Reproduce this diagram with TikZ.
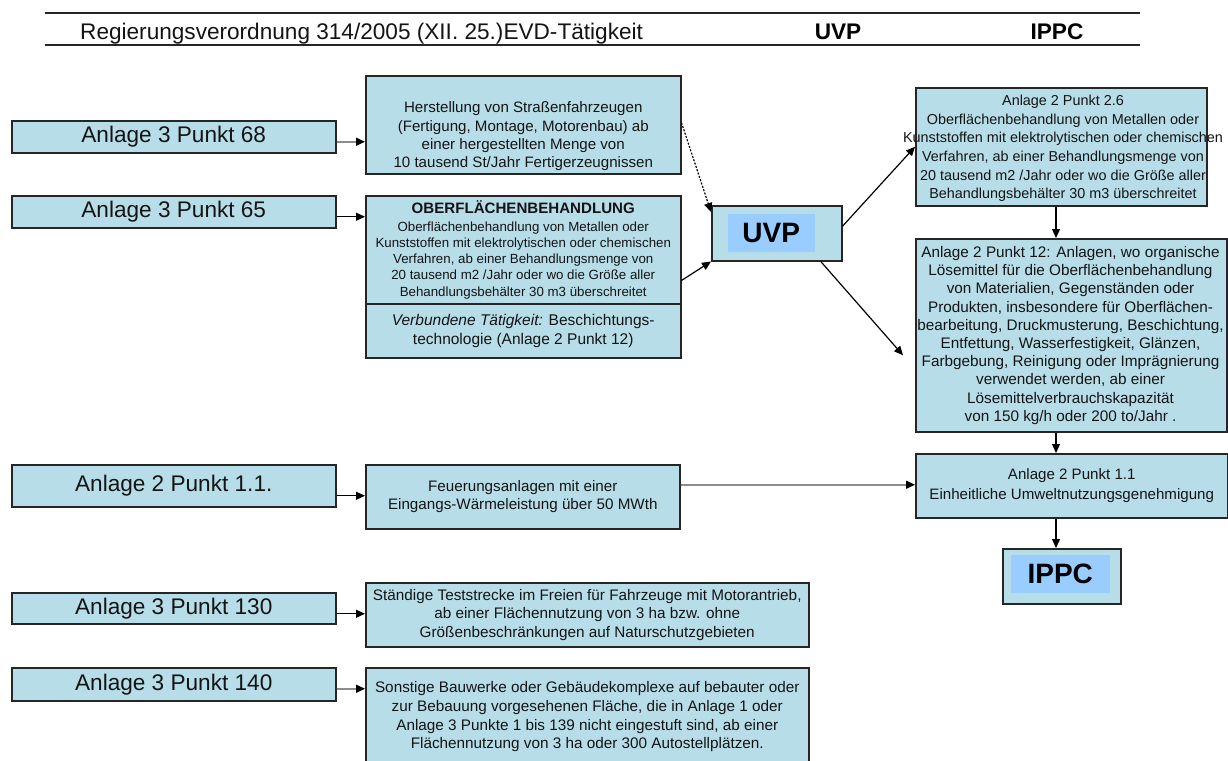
\documentclass[tikz,border=0pt]{standalone}
\usepackage{fontspec}
\setmainfont{Liberation Sans}
\usetikzlibrary{arrows.meta,calc}

\definecolor{boxfill}{HTML}{B7DEE8}
\definecolor{tagfill}{HTML}{99CCFF}
\definecolor{boxline}{HTML}{262626}
\definecolor{inkcol}{HTML}{141414}
\definecolor{shaftgray}{HTML}{8C8C8C}

\newcommand{\fsz}[2]{\fontsize{#1}{#2}\selectfont}

\begin{document}
\begin{tikzpicture}[x=1pt,y=-1pt,
  box/.style={draw=boxline, fill=boxfill, line width=1.5pt, inner sep=0pt,
              anchor=north west, align=center, text=inkcol},
  txt/.style={inner sep=0pt, align=center, text=inkcol},
  tag/.style={fill=tagfill, inner sep=0pt, text=black, font=\bfseries\fsz{28}{32}},
  lbl/.style={font=\fsz{22.6}{27}},
  conn/.style={line width=1.2pt, draw=black, -{Triangle[length=9pt,width=8pt,color=black]}},
  grayconn/.style={conn, draw=shaftgray, line width=1.5pt}
]
\useasboundingbox (0,0) rectangle (1228,760);
\clip (0,0) rectangle (1228,760);

% ---- header row ----
\draw[line width=2pt, boxline] (45,13) -- (1140,13);
\draw[line width=2pt, boxline] (45,45) -- (1140,45);
\node[anchor=base west, lbl, text=inkcol, inner sep=0pt] (hdr) at (80,40)
  {Regierungsverordnung 314/2005 (XII. 25.)EVD-Tätigkeit};
\node[anchor=base, font=\bfseries\fsz{22.6}{27}, inner sep=0pt] (hdruvp) at (838,40) {UVP};
\node[anchor=base, font=\bfseries\fsz{22.6}{27}, inner sep=0pt] (hdrippc) at (1057,40) {IPPC};

% ---- left column: annex references ----
\node[box, lbl, minimum width=324pt, minimum height=32pt] (l68)  at (11,120) {Anlage 3 Punkt 68};
\node[box, lbl, minimum width=324pt, minimum height=32pt] (l65)  at (11,195) {Anlage 3 Punkt 65};
\node[box, lbl, minimum width=324pt, minimum height=42pt] (l11)  at (11,464) {Anlage 2 Punkt 1.1.};
\node[box, lbl, minimum width=324pt, minimum height=31pt] (l130) at (11,592) {Anlage 3 Punkt 130};
\node[box, lbl, minimum width=324pt, minimum height=33pt] (l140) at (11,667) {Anlage 3 Punkt 140};

% ---- middle column: activities ----
\node[box, minimum width=315pt, minimum height=98pt] (herst) at (365,75) {};
\node[txt, font=\fsz{15.1}{18.3}] (herstt) at ([yshift=-11.5pt]herst.center)
  {Herstellung von Straßenfahrzeugen\\(Fertigung, Montage, Motorenbau) ab\\einer hergestellten Menge von\\10 tausend St/Jahr Fertigerzeugnissen};

\node[box, minimum width=315pt, minimum height=108pt, font=\fsz{13.3}{16.2}] (ober) at (365,195)
  {{\bfseries\fsz{15.1}{17}OBERFLÄCHENBEHANDLUNG}\\[1.5pt]
   Oberflächenbehandlung von Metallen oder\\
   Kunststoffen mit elektrolytischen oder chemischen\\
   Verfahren, ab einer Behandlungsmenge von\\
   20 tausend m2 /Jahr oder wo die Größe aller\\
   Behandlungsbehälter 30 m3 überschreitet};
\node[box, minimum width=315pt, minimum height=54pt, font=\fsz{15.5}{19}] (verb) at (365,303)
  {\textit{Verbundene Tätigkeit:} Beschichtungs-\\technologie (Anlage 2 Punkt 12)};

\node[box, minimum width=314pt, minimum height=64pt, font=\fsz{15.2}{18}] (feuer) at (365,464)
  {Feuerungsanlagen mit einer\\Eingangs-Wärmeleistung über 50 MWth};

\node[box, minimum width=443pt, minimum height=64pt, font=\fsz{15.3}{18.5}] (staend) at (365,582)
  {Ständige Teststrecke im Freien für Fahrzeuge mit Motorantrieb,\\
   ab einer Flächennutzung von 3 ha bzw. ohne\\
   Größenbeschränkungen auf Naturschutzgebieten};
\node[box, minimum width=443pt, minimum height=98pt, font=\fsz{15.3}{18.7}] (sonst) at (365,667)
  {Sonstige Bauwerke oder Gebäudekomplexe auf bebauter oder\\
   zur Bebauung vorgesehenen Fläche, die in Anlage 1 oder\\
   Anlage 3 Punkte 1 bis 139 nicht eingestuft sind, ab einer\\
   Flächennutzung von 3 ha oder 300 Autostellplätzen.};

% ---- UVP hub ----
\node[box, minimum width=130pt, minimum height=55pt] (uvp) at (711,205) {};
\node[tag, minimum width=87pt, minimum height=38pt] (uvptag) at ([xshift=-5.5pt]uvp.center) {UVP};

% ---- right column: IPPC chain ----
\node[box, minimum width=291pt, minimum height=118pt] (a26) at (915,87) {};
\node[txt, font=\fsz{14.4}{18.6}] (a26t) at (1063,148.5)
  {Anlage 2 Punkt 2.6\\
   Oberflächenbehandlung von Metallen oder\\
   Kunststoffen mit elektrolytischen oder chemischen\\
   Verfahren, ab einer Behandlungsmenge von\\
   20 tausend m2 /Jahr oder wo die Größe aller\\
   Behandlungsbehälter 30 m3 überschreitet};

\node[box, minimum width=311pt, minimum height=193pt] (a12) at (915,238) {};
\node[txt, font=\fsz{15.3}{18.2}] (a12t) at (1070.5,335.5)
  {Anlage 2 Punkt 12: Anlagen, wo organische\\
   Lösemittel für die Oberflächenbehandlung\\
   von Materialien, Gegenständen oder\\
   Produkten, insbesondere für Oberflächen-\\
   bearbeitung, Druckmusterung, Beschichtung,\\
   Entfettung, Wasserfestigkeit, Glänzen,\\
   Farbgebung, Reinigung oder Imprägnierung\\
   verwendet werden, ab einer\\
   Lösemittelverbrauchskapazität\\
   von 150 kg/h oder 200 to/Jahr .};

\node[box, minimum width=312pt, minimum height=64pt, font=\fsz{15.1}{20}] (a11) at (915,453)
  {Anlage 2 Punkt 1.1\\Einheitliche Umweltnutzungsgenehmigung};

\node[box, minimum width=118pt, minimum height=55pt] (ippc) at (1002,548) {};
\node[tag, minimum width=99pt, minimum height=38pt] (ippctag) at ([xshift=-1.5pt,yshift=2.5pt]ippc.center) {IPPC};

% ---- connectors ----
\coordinate (s68)  at ([yshift=-5pt]l68.east);
\coordinate (s65)  at ([yshift=-5pt]l65.east);
\coordinate (s11)  at ([yshift=-10pt]l11.east);
\coordinate (s130) at ([yshift=-5.5pt]l130.east);
\coordinate (s140) at ([yshift=-4.5pt]l140.east);
\draw[grayconn] (s68)  -- (s68 -| herst.west);
\draw[conn]     (s65)  -- (s65 -| ober.west);
\draw[conn]     (s11)  -- (s11 -| feuer.west);
\draw[conn]     (s130) -- (s130 -| staend.west);
\draw[grayconn] (s140) -- (s140 -| sonst.west);

\draw[conn, dash pattern=on 2pt off 1.5pt] ([yshift=2pt]herst.east) -- ([yshift=-7pt]uvp.north west);
\draw[conn] ([yshift=24pt]ober.south east) -- (uvp.south west);
\draw[conn] ([yshift=7pt]uvp.east) -- (a26.west);
\draw[conn] ([xshift=44pt]uvp.south) -- ([xshift=-12pt,yshift=-20pt]a12.west);

\coordinate (spine) at (1056,0);
\draw[conn] (a26.south -| spine) -- (a12.north -| spine);
\draw[conn] (a12.south -| spine) -- (a11.north -| spine);
\draw[conn] (a11.south -| spine) -- (ippc.north -| spine);

\coordinate (sf) at ([yshift=12pt]feuer.east);
\draw[grayconn] (sf) -- (sf -| a11.west);
\end{tikzpicture}
\end{document}
